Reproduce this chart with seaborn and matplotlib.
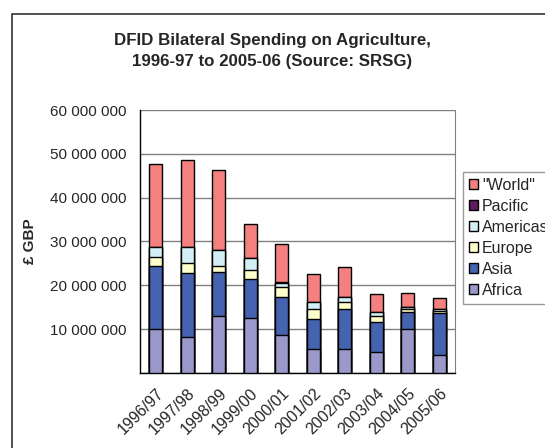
import numpy as np
import pandas as pd
import matplotlib
matplotlib.use("Agg")
import matplotlib.pyplot as plt
import seaborn as sns
from matplotlib.patches import Patch, Rectangle
from matplotlib.ticker import FuncFormatter, FixedLocator

# Valores (millones de GBP)
years = ["1996/97", "1997/98", "1998/99", "1999/00", "2000/01",
         "2001/02", "2002/03", "2003/04", "2004/05", "2005/06"]
africa = [10.1, 8.1, 13.0, 12.6, 8.7, 5.5, 5.5, 4.7, 10.0, 4.1]
asia = [14.2, 14.8, 10.1, 8.8, 8.6, 6.8, 9.0, 7.0, 3.9, 9.7]
europe = [2.1, 2.2, 1.4, 2.1, 2.4, 2.3, 1.6, 1.3, 0.6, 0.3]
americas = [2.4, 3.7, 3.6, 2.7, 0.9, 1.7, 1.2, 0.9, 0.5, 0.4]
pacific = [0.0, 0.0, 0.0, 0.0, 0.1, 0.0, 0.0, 0.1, 0.1, 0.1]
world = [18.8, 19.7, 18.3, 7.8, 8.8, 6.3, 6.9, 4.0, 3.2, 2.6]

series = ["Africa", "Asia", "Europe", "Americas", "Pacific", '"World"']
colors = ["#9B99CC", "#4563B0", "#FFFFCC", "#D3EEF5", "#5E1A5E", "#F48080"]

df = pd.DataFrame({"Year": years, "Africa": africa, "Asia": asia, "Europe": europe,
                   "Americas": americas, "Pacific": pacific, '"World"': world})
df[series] = df[series] * 1e6
cum = df[series].cumsum(axis=1)

sns.set_style("white")
plt.rcParams["font.family"] = ["Liberation Sans", "DejaVu Sans"]

fig = plt.figure(figsize=(5.45, 4.48), dpi=100)
ax = fig.add_axes([140 / 545, 75 / 448, 315 / 545, 263 / 448])

# barras apiladas: dibujar acumulados de arriba hacia abajo
for name, col in reversed(list(zip(series, colors))):
    sns.barplot(x=df["Year"], y=cum[name], color=col, width=0.4,
                edgecolor="black", linewidth=1.0, saturation=1, ax=ax, zorder=3)

ax.set_ylim(0, 60e6)
ax.set_xlim(-0.5, 9.5)
ax.yaxis.set_major_locator(FixedLocator(np.arange(0, 60e6 + 1, 10e6)))
ax.yaxis.set_major_formatter(FuncFormatter(lambda v, p: f"{int(v):,}".replace(",", " ") if v > 0 else ""))
ax.grid(axis="y", color="#808080", linewidth=1.0, zorder=0)
ax.set_axisbelow(True)

ax.set_xticks(range(len(years)))
ax.set_xticklabels(years, rotation=45, ha="right", rotation_mode="anchor", fontsize=11.5)
ax.xaxis.set_minor_locator(FixedLocator(np.arange(-0.5, 10, 1)))
ax.tick_params(axis="x", which="major", length=0, pad=9)
ax.tick_params(axis="x", which="minor", length=5, width=1, color="black", direction="out")
ax.tick_params(axis="y", length=5, width=1, color="black", direction="out", labelsize=11, pad=5)

ax.spines["top"].set_visible(False)
ax.spines["right"].set_color("#808080")
ax.spines["left"].set_color("black")
ax.spines["bottom"].set_color("black")
ax.spines["left"].set_linewidth(1)
ax.spines["bottom"].set_linewidth(1)

ax.set_xlabel("")
ax.set_ylabel("£ GBP", fontsize=11, fontweight="bold", labelpad=9)

fig.text(0.5, 1 - 51 / 448, "DFID Bilateral Spending on Agriculture,\n1996-97 to 2005-06 (Source: SRSG)",
         ha="center", va="center", fontsize=12.2, fontweight="bold", linespacing=1.45)

handles = [Patch(facecolor=c, edgecolor="black", label=n) for n, c in zip(series, colors)]
leg = fig.legend(handles=handles[::-1], loc="upper left", bbox_to_anchor=(463 / 545, 1 - 172 / 448),
                 frameon=True, fancybox=False, edgecolor="#808080", fontsize=11.5,
                 handlelength=0.6, handleheight=0.6, handletextpad=0.25, labelspacing=0.38,
                 borderpad=0.35, borderaxespad=0)
leg.get_frame().set_linewidth(1)

# borde exterior del grafico
fig.add_artist(Rectangle((12 / 545, -0.1), 1.2, 1 - 14 / 448 + 0.1, transform=fig.transFigure,
                         fill=False, edgecolor="#333333", linewidth=1.2))

fig.savefig("out.png", dpi=100)
